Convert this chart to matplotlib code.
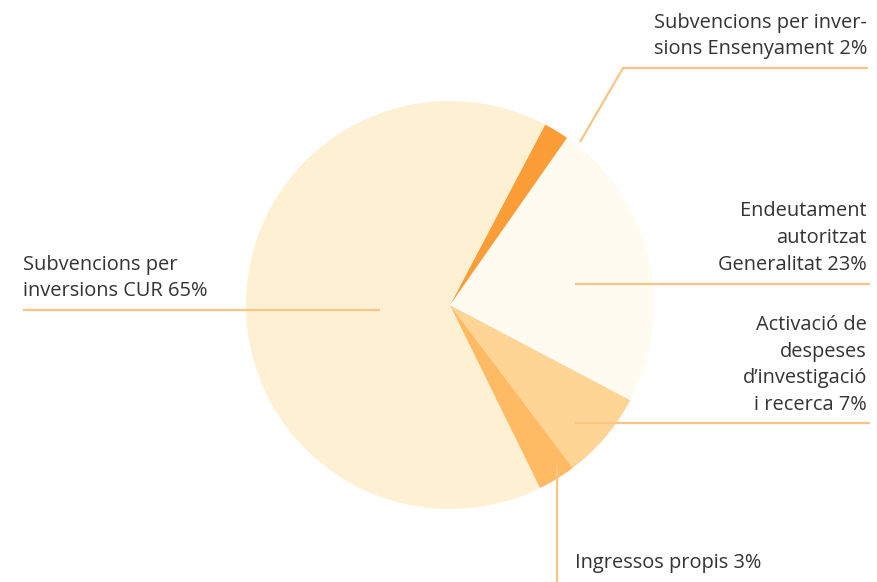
import matplotlib
matplotlib.use("Agg")
import matplotlib.pyplot as plt

# slices, counterclockwise starting at Activació
labels = ["Activació de\ndespeses\nd\u2019investigació\ni recerca 7%",
          "Endeutament\nautoritzat\nGeneralitat 23%",
          "Subvencions per inver-\nsions Ensenyament 2%",
          "Subvencions per\ninversions CUR 65%",
          "Ingressos propis 3%"]
values = [7, 23, 2, 65, 3]
colors = ["#FFD596", "#FFFBF0", "#FC9D38", "#FEF0D2", "#FFBA63"]

W, H = 878, 582
fig = plt.figure(figsize=(W / 100, H / 100), dpi=100)
ax = fig.add_axes([0, 0, 1, 1])

cx, cy, r = 450, H - 305, 204
ax.pie(values, colors=colors, startangle=-53, counterclock=True,
       center=(cx, cy), radius=r, frame=True,
       wedgeprops=dict(linewidth=0))
ax.set_xlim(0, W)
ax.set_ylim(0, H)
ax.set_aspect("equal")
ax.axis("off")

line_kw = dict(color="#F9C584", lw=1.6, zorder=5, solid_capstyle="butt")
txt_kw = dict(fontsize=14.4, color="#333333", family="Open Sans", linespacing=1.45)

# leader lines (pixel coords, y from top)
def px(points):
    xs = [p[0] for p in points]
    ys = [H - p[1] for p in points]
    return xs, ys

ax.plot(*px([(580, 142), (623, 68), (868, 68)]), **line_kw)
ax.plot(*px([(23, 310), (380, 310)]), **line_kw)
ax.plot(*px([(575, 284), (870, 284)]), **line_kw)
ax.plot(*px([(575, 423), (870, 423)]), **line_kw)
ax.plot(*px([(557, 465), (557, 582)]), **line_kw)

ax.text(867, H - 36, labels[2], ha="right", va="center", multialignment="right", **txt_kw)
ax.text(23, H - 278, labels[3], ha="left", va="center", **txt_kw)
ax.text(867, H - 238, labels[1], ha="right", va="center", multialignment="right", **txt_kw)
ax.text(867, H - 365, labels[0], ha="right", va="center", multialignment="right", **txt_kw)
ax.text(575, H - 563, labels[4], ha="left", va="center", **txt_kw)

fig.savefig("out.png", dpi=100)
